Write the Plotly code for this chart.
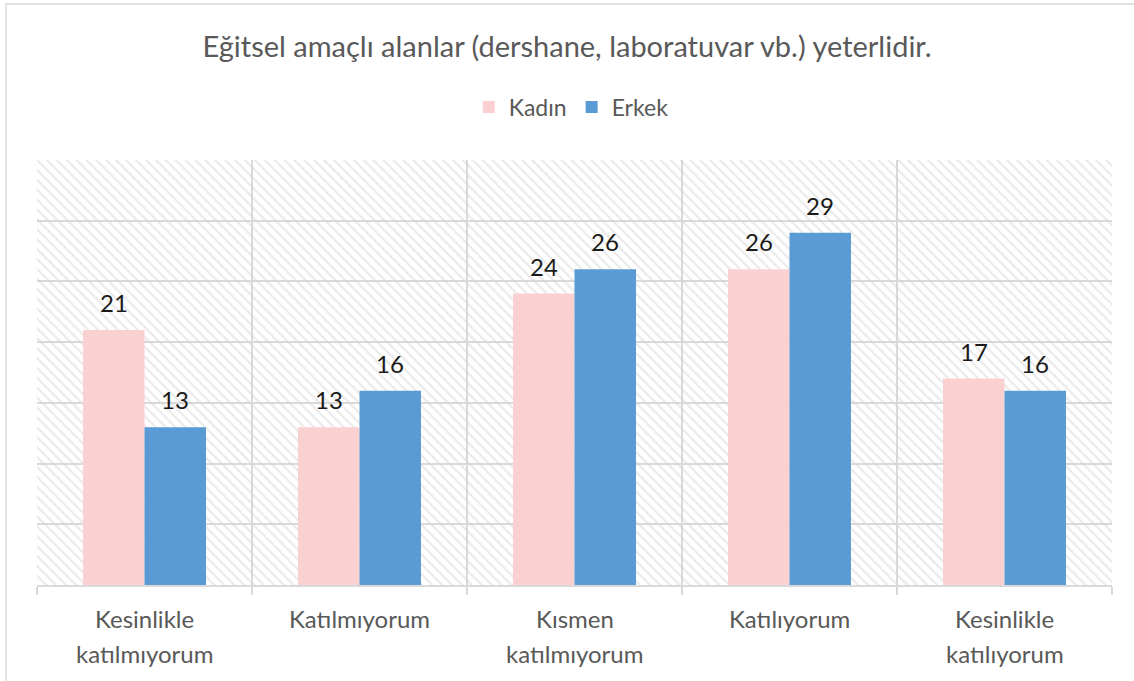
import plotly.graph_objects as go

# Survey responses: "Eğitsel amaçlı alanlar (dershane, laboratuvar vb.) yeterlidir."
categories = [
    "Kesinlikle\nkatılmıyorum",
    "Katılmıyorum",
    "Kısmen\nkatılmıyorum",
    "Katılıyorum",
    "Kesinlikle\nkatılıyorum",
]
kadin = [21, 13, 24, 26, 17]
erkek = [13, 16, 26, 29, 16]
y_max = 35
y_step = 5

title_text = "Eğitsel amaçlı alanlar (dershane, laboratuvar vb.) yeterlidir."

FONT = "Lato, 'Open Sans', sans-serif"
GRAY_TEXT = "#595959"
GRID = "#d9d9d9"
PINK = "#FBD0D1"
BLUE = "#5B9BD5"

# Plot area geometry (pixels)
W, H = 1134, 681
L, R, T, B = 37, 22, 160, 96
plot_w = W - L - R
plot_h = H - T - B

xcats = list(range(len(categories)))
bar_w = 0.286

fig = go.Figure()

# Hatched plot background, one tile per category column
fig.add_trace(go.Bar(
    x=xcats, y=[y_max] * len(xcats), width=1.0, offset=-0.5,
    marker=dict(color="rgba(0,0,0,0)", line=dict(width=0),
                pattern=dict(shape="\\", fgcolor="#d4d4d4",
                             bgcolor="rgba(0,0,0,0)", size=7,
                             solidity=0.3, fillmode="overlay")),
    hoverinfo="skip", showlegend=False,
))

series = [("Kadın", kadin, PINK, -bar_w), ("Erkek", erkek, BLUE, 0.0)]
annotations = []
for name, vals, color, off in series:
    fig.add_trace(go.Bar(
        name=name, x=xcats, y=vals, width=bar_w, offset=off,
        marker=dict(color=color, line=dict(width=0)),
    ))
    # value labels above each bar
    for i, v in zip(xcats, vals):
        annotations.append(dict(
            x=i + off + bar_w / 2, y=v, xref="x", yref="y",
            text=str(v), showarrow=False, yanchor="bottom", yshift=11,
            font=dict(size=24, color="#1a1a1a", family=FONT),
        ))

# Category labels below the axis, one annotation per text line
line_gap = 35
first_line_px = 618
for i, cat in enumerate(categories):
    for j, line in enumerate(cat.split("\n")):
        py = first_line_px + j * line_gap
        annotations.append(dict(
            x=i, y=(H - B - py) / plot_h, xref="x", yref="paper",
            text=line, showarrow=False, yanchor="middle",
            font=dict(size=24, color=GRAY_TEXT, family=FONT),
        ))

def px_x(p):
    return (p - L) / plot_w

def px_y(p):
    return (H - B - p) / plot_h

# Outer chart frame
shapes = [dict(
    type="rect", xref="paper", yref="paper",
    x0=px_x(6), x1=px_x(W + 10), y0=px_y(H + 10), y1=px_y(4),
    line=dict(color=GRID, width=1.5), layer="below",
)]

fig.update_layout(
    width=W, height=H,
    margin=dict(l=L, r=R, t=T, b=B, autoexpand=False),
    paper_bgcolor="white", plot_bgcolor="white",
    barmode="overlay",
    font=dict(family=FONT, color=GRAY_TEXT),
    title=dict(text=title_text, x=0.5, xanchor="center",
               y=1 - 47 / H, yanchor="middle",
               font=dict(size=29, color=GRAY_TEXT, family=FONT)),
    legend=dict(orientation="h", x=0.497, xanchor="center",
                y=px_y(107), yanchor="middle",
                font=dict(size=23, color=GRAY_TEXT, family=FONT),
                itemwidth=30, traceorder="normal"),
    xaxis=dict(
        range=[-0.5, len(categories) - 0.5],
        tickmode="array", tickvals=[i - 0.5 for i in range(len(categories) + 1)],
        ticktext=[""] * (len(categories) + 1),
        showgrid=True, gridcolor=GRID, gridwidth=1.5,
        ticks="outside", ticklen=8, tickcolor=GRID, tickwidth=1.5,
        showline=True, linecolor=GRID, linewidth=1.5,
        zeroline=False, fixedrange=True,
    ),
    yaxis=dict(
        range=[0, y_max], dtick=y_step, tick0=0,
        showgrid=True, gridcolor=GRID, gridwidth=1.5,
        showticklabels=False, zeroline=False, showline=False,
        fixedrange=True,
    ),
    annotations=annotations,
    shapes=shapes,
)

fig.write_html("out.html")
